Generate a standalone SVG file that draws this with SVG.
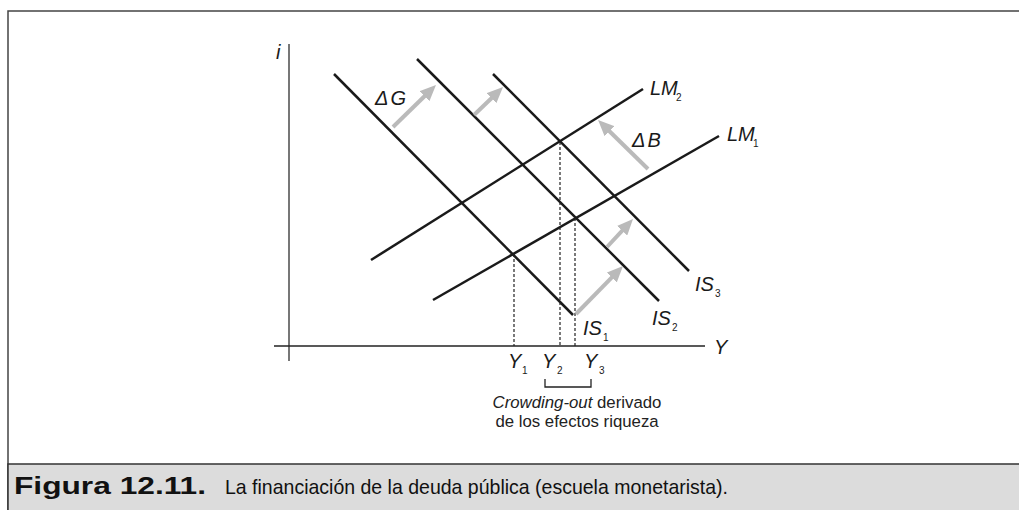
<svg xmlns="http://www.w3.org/2000/svg" width="1019" height="510" viewBox="0 0 1019 510">
<style>
.curve{fill:none;stroke:#1a1a1a;stroke-width:2.5;stroke-linecap:butt}
.axis{fill:none;stroke:#555;stroke-width:1.6}
.haxis{fill:none;stroke:#222;stroke-width:1.6}
.dot{fill:none;stroke:#222;stroke-width:1.2;stroke-dasharray:3 2}
.arr{fill:none;stroke:#bababa;stroke-width:4;marker-end:url(#ah)}
.lab{font-family:"Liberation Sans",Arial,sans-serif;font-style:italic;font-size:20px;fill:#1a1a1a}
.sub{font-family:"Liberation Sans",Arial,sans-serif;font-size:10px;fill:#1a1a1a}
.note{font-family:"Liberation Sans",Arial,sans-serif;font-size:16.8px;fill:#222}
.cap{font-family:"Liberation Sans",Arial,sans-serif;font-size:21px;fill:#111}
</style>
<defs>
<marker id="ah" markerUnits="userSpaceOnUse" markerWidth="16" markerHeight="14" refX="5" refY="7" orient="auto" viewBox="0 0 16 14">
<path d="M0,0 L16,7 L0,14 z" fill="#bababa"/>
</marker>
</defs>
<g id="frame">
<rect x="8" y="11" width="1020" height="499" fill="#ffffff" stroke="#444" stroke-width="1.5"/>
<rect x="8" y="464" width="1020" height="50" fill="#dcdcdc" stroke="#333" stroke-width="1.5"/>
</g>
<g id="axes">
<line class="axis" x1="289" y1="44" x2="289" y2="361"/>
<line class="haxis" x1="274" y1="346" x2="705" y2="346"/>
<text class="lab" x="276" y="59">i</text>
<text class="lab" x="714" y="354">Y</text>
</g>
<g id="connectors">
<line class="curve" x1="334" y1="74" x2="573" y2="315"/>
<line class="curve" x1="417" y1="59" x2="659" y2="301"/>
<line class="curve" x1="493" y1="74" x2="689" y2="271"/>
<line class="curve" x1="371" y1="260" x2="643" y2="89"/>
<line class="curve" x1="433" y1="300" x2="719" y2="136"/>
<line class="dot" x1="514" y1="254" x2="514" y2="346"/>
<line class="dot" x1="560" y1="142" x2="560" y2="346"/>
<line class="dot" x1="575" y1="218" x2="575" y2="346"/>
<line class="arr" x1="393" y1="127" x2="428.1" y2="92.7"/>
<line class="arr" x1="474" y1="115" x2="495.1" y2="94.7"/>
<line class="arr" x1="648" y1="169" x2="605.9" y2="127.7"/>
<line class="arr" x1="576" y1="314" x2="615.3" y2="273.9"/>
<line class="arr" x1="607" y1="247" x2="625.5" y2="227.1"/>
<path d="M545,379 V387 H591 V379" fill="none" stroke="#222" stroke-width="1.3"/>
</g>
<g id="IS1"><text class="lab" x="583" y="335">IS</text><text class="sub" x="603" y="341">1</text></g>
<g id="IS2"><text class="lab" x="652" y="325">IS</text><text class="sub" x="672" y="331">2</text></g>
<g id="IS3"><text class="lab" x="695" y="291">IS</text><text class="sub" x="715" y="297">3</text></g>
<g id="LM2"><text class="lab" x="650" y="95">LM</text><text class="sub" x="676" y="101">2</text></g>
<g id="LM1"><text class="lab" x="727" y="141">LM</text><text class="sub" x="753" y="147">1</text></g>
<g id="dG"><text class="lab" x="375" y="105">Δ<tspan dx="2">G</tspan></text></g>
<g id="dB"><text class="lab" x="632" y="147">Δ<tspan dx="2">B</tspan></text></g>
<g id="Y1"><text class="lab" x="508" y="368">Y</text><text class="sub" x="522" y="374">1</text></g>
<g id="Y2"><text class="lab" x="542" y="368">Y</text><text class="sub" x="557" y="374">2</text></g>
<g id="Y3"><text class="lab" x="584" y="368">Y</text><text class="sub" x="599" y="374">3</text></g>
<g id="note">
<text class="note" x="577" y="408" text-anchor="middle"><tspan font-style="italic">Crowding-out</tspan> derivado</text>
<text class="note" x="577" y="427" text-anchor="middle">de los efectos riqueza</text>
</g>
<g id="caption">
<text class="cap" x="14" y="494" font-weight="bold" style="font-size:23px" textLength="192" lengthAdjust="spacingAndGlyphs">Figura 12.11.</text>
<text class="cap" x="225" y="494" textLength="503" lengthAdjust="spacingAndGlyphs">La financiación de la deuda pública (escuela monetarista).</text>
</g>
</svg>
